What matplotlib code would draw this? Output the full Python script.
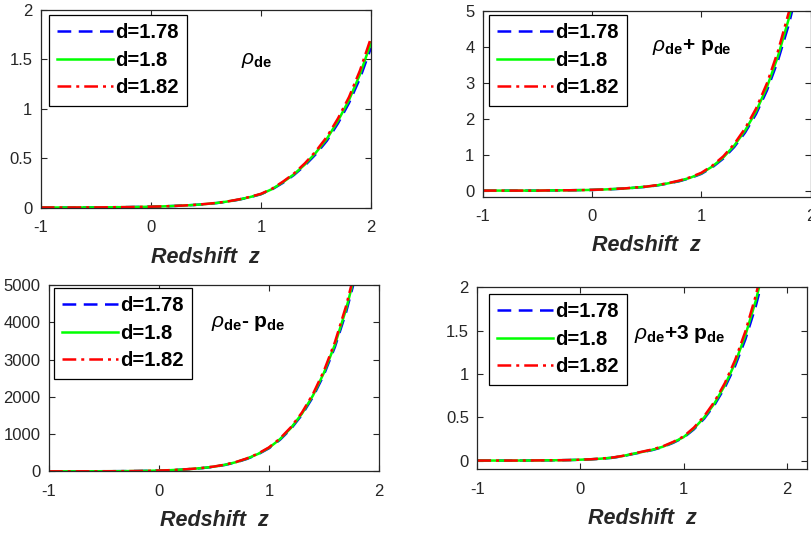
import numpy as np
import matplotlib
matplotlib.use("Agg")
import matplotlib.pyplot as plt

plt.rcParams['font.family'] = ['Liberation Sans', 'DejaVu Sans']
plt.rcParams['mathtext.fontset'] = 'custom'
plt.rcParams['mathtext.rm'] = 'Liberation Sans'
plt.rcParams['mathtext.it'] = 'Liberation Sans:italic'
plt.rcParams['mathtext.bf'] = 'Liberation Sans:bold'

# ---- data ----
z = [-1.0, -0.9, -0.8, -0.7, -0.6, -0.5, -0.4, -0.3, -0.2, -0.1, 0.0,
     0.1, 0.2, 0.3, 0.4, 0.5, 0.6, 0.7, 0.8, 0.9, 1.0,
     1.1, 1.2, 1.3, 1.4, 1.5, 1.6, 1.7, 1.8, 1.9, 2.0]

labels = ['d=1.78', 'd=1.8', 'd=1.82']

# rho_de
rho_178 = [0.005, 0.005, 0.005, 0.005, 0.006, 0.006, 0.007, 0.008, 0.009, 0.011, 0.013,
           0.016, 0.020, 0.025, 0.031, 0.040, 0.050, 0.065, 0.084, 0.109, 0.139,
           0.187, 0.254, 0.333, 0.430, 0.545, 0.680, 0.855, 1.060, 1.310, 1.620]
rho_18 = [0.005, 0.005, 0.005, 0.005, 0.006, 0.006, 0.007, 0.008, 0.009, 0.011, 0.013,
          0.016, 0.020, 0.025, 0.031, 0.040, 0.051, 0.066, 0.085, 0.110, 0.140,
          0.190, 0.260, 0.340, 0.440, 0.560, 0.700, 0.880, 1.090, 1.350, 1.670]
rho_182 = [0.005, 0.005, 0.005, 0.005, 0.006, 0.006, 0.007, 0.008, 0.009, 0.011, 0.013,
           0.016, 0.020, 0.025, 0.032, 0.041, 0.052, 0.067, 0.087, 0.112, 0.143,
           0.194, 0.266, 0.348, 0.452, 0.575, 0.720, 0.905, 1.120, 1.390, 1.720]

# rho_de + p_de
rpp_178 = [0.00, 0.00, 0.00, 0.00, 0.00, 0.00, 0.005, 0.007, 0.010, 0.014, 0.019,
           0.028, 0.042, 0.058, 0.082, 0.107, 0.146, 0.200, 0.263, 0.350, 0.466,
           0.648, 0.890, 1.210, 1.615, 2.130, 2.785, 3.610, 4.620, 5.870, 7.400]
rpp_18 = [0.00, 0.00, 0.00, 0.00, 0.00, 0.00, 0.005, 0.007, 0.010, 0.014, 0.020,
          0.030, 0.045, 0.060, 0.085, 0.110, 0.150, 0.205, 0.270, 0.360, 0.480,
          0.670, 0.920, 1.250, 1.670, 2.200, 2.880, 3.730, 4.780, 6.070, 7.650]
rpp_182 = [0.00, 0.00, 0.00, 0.00, 0.00, 0.00, 0.005, 0.007, 0.010, 0.014, 0.021,
           0.031, 0.047, 0.062, 0.088, 0.113, 0.155, 0.211, 0.279, 0.372, 0.496,
           0.693, 0.952, 1.294, 1.730, 2.280, 2.985, 3.870, 4.960, 6.300, 7.950]

# rho_de - p_de
rmp_178 = [0, 0, 0, 1, 1, 2, 3, 5, 8, 13, 19,
           29, 44, 63, 88, 122, 171, 240, 333, 456, 618,
           845, 1140, 1517, 1995, 2595, 3340, 4255, 5380, 6740, 8380]
rmp_18 = [0, 0, 0, 1, 1, 2, 3, 5, 8, 13, 20,
          30, 45, 65, 90, 125, 175, 245, 340, 465, 630,
          862, 1163, 1547, 2034, 2645, 3404, 4338, 5482, 6869, 8543]
rmp_182 = [0, 0, 0, 1, 1, 2, 3, 5, 8, 13, 20,
           31, 46, 66, 92, 128, 179, 250, 347, 474, 642,
           879, 1186, 1578, 2075, 2698, 3472, 4425, 5592, 7006, 8714]

# rho_de + 3 p_de
r3p_178 = [0.000, 0.000, 0.000, 0.000, 0.000, 0.001, 0.002, 0.003, 0.004, 0.006, 0.009,
           0.014, 0.021, 0.031, 0.048, 0.073, 0.097, 0.122, 0.156, 0.205, 0.264,
           0.360, 0.484, 0.642, 0.842, 1.092, 1.400, 1.780, 2.245, 2.810, 3.490]
r3p_18 = [0.000, 0.000, 0.000, 0.000, 0.000, 0.001, 0.002, 0.003, 0.004, 0.006, 0.010,
          0.015, 0.022, 0.032, 0.050, 0.075, 0.100, 0.125, 0.160, 0.210, 0.270,
          0.369, 0.497, 0.660, 0.867, 1.126, 1.447, 1.843, 2.326, 2.910, 3.620]
r3p_182 = [0.000, 0.000, 0.000, 0.000, 0.000, 0.001, 0.002, 0.003, 0.004, 0.006, 0.010,
           0.015, 0.023, 0.033, 0.052, 0.077, 0.103, 0.129, 0.165, 0.216, 0.278,
           0.380, 0.512, 0.680, 0.893, 1.160, 1.492, 1.902, 2.402, 3.005, 3.740]

HY = '\u2010'
panels = [
    dict(rect=[0.0501, 0.6105, 0.4068, 0.3708], series=[rho_178, rho_18, rho_182],
         xlim=(-1, 2), ylim=(0, 2), yticks=[0, 0.5, 1, 1.5, 2], ytl=['0', '0.5', '1', '1.5', '2'],
         xticks=[-1, 0, 1, 2], text=r'$\rho_{\mathbf{de}}$', tpos=(0.605, 0.745),
         leg=(49, 15)),
    dict(rect=[0.5945, 0.6316, 0.4039, 0.3483], series=[rpp_178, rpp_18, rpp_182],
         xlim=(-1, 2), ylim=(-0.17, 5), yticks=[0, 1, 2, 3, 4, 5], ytl=['0', '1', '2', '3', '4', '5'],
         xticks=[-1, 0, 1, 2], text=r'$\rho_{\mathbf{de}}\mathbf{+\ p_{de}}$', tpos=(0.515, 0.805),
         leg=(489, 15)),
    dict(rect=[0.0603, 0.1174, 0.4064, 0.3489], series=[rmp_178, rmp_18, rmp_182],
         xlim=(-1, 2), ylim=(0, 5000), yticks=[0, 1000, 2000, 3000, 4000, 5000],
         ytl=['0', '1000', '2000', '3000', '4000', '5000'],
         xticks=[-1, 0, 1, 2], text=r'$\rho_{\mathbf{de}}\mathbf{' + HY + r'\ p_{de}}$', tpos=(0.49, 0.793),
         leg=(54, 288)),
    dict(rect=[0.5878, 0.1213, 0.4064, 0.3408], series=[r3p_178, r3p_18, r3p_182],
         xlim=(-1, 2.2), ylim=(-0.1, 2), yticks=[0, 0.5, 1, 1.5, 2], ytl=['0', '0.5', '1', '1.5', '2'],
         xticks=[-1, 0, 1, 2], text=r'$\rho_{\mathbf{de}}\mathbf{+3\ p_{de}}$', tpos=(0.476, 0.745),
         leg=(489, 294)),
]

W, H = 812, 534
fig = plt.figure(figsize=(W / 100, H / 100), dpi=100)
gray = '#262626'
styles = [dict(color='#0000ff', ls=(0, (5.5, 3))),
          dict(color='#00ff00', ls='-'),
          dict(color='#ff0000', ls=(0, (5.5, 2, 1.2, 2)))]

for p in panels:
    ax = fig.add_axes(p['rect'])
    for s, st, lab in zip(p['series'], styles, labels):
        ax.plot(z, s, lw=1.8, label=lab, **st)
    ax.set_xlim(*p['xlim'])
    ax.set_ylim(*p['ylim'])
    ax.set_xticks(p['xticks'])
    ax.set_xticklabels([str(t) for t in p['xticks']])
    ax.set_yticks(p['yticks'])
    ax.set_yticklabels(p['ytl'])
    ax.tick_params(direction='in', top=True, right=True, length=4, width=0.8,
                   colors=gray, labelsize=12)
    ax.tick_params(axis='x', pad=9)
    ax.tick_params(axis='y', pad=6)
    for sp in ax.spines.values():
        sp.set_color(gray)
        sp.set_linewidth(0.9)
    ax.set_xlabel('Redshift  z', fontsize=15.5, fontweight='bold', fontstyle='italic',
                  color=gray, labelpad=8)
    ax.text(p['tpos'][0], p['tpos'][1], p['text'], transform=ax.transAxes,
            fontsize=15, va='center', ha='left', color='black')
    lx, ly = p['leg']
    leg = ax.legend(loc='upper left', bbox_to_anchor=(lx / W, 1 - ly / H),
                    bbox_transform=fig.transFigure, borderaxespad=0,
                    prop=dict(weight='bold', size=14.5), handlelength=2.75,
                    handletextpad=0.1, labelspacing=0.42, borderpad=0.42,
                    fancybox=False, framealpha=1, edgecolor='black')
    leg.get_frame().set_linewidth(0.9)

fig.savefig('out.png', dpi=100)
